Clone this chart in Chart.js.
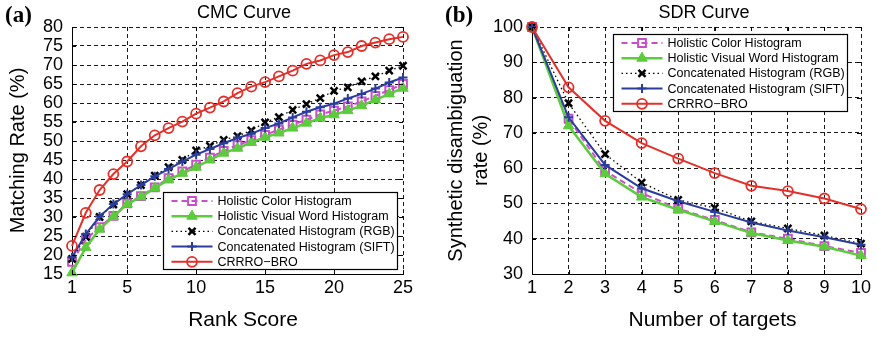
<!DOCTYPE html>
<html>
<head>
<meta charset="utf-8">
<script src="https://cdn.jsdelivr.net/npm/chart.js@4.4.0/dist/chart.umd.min.js"></script>
<style>
body { margin: 0; background: #fff; }
#wrap { position: relative; width: 877px; height: 337px; }
#cmc { position: absolute; left: 0; top: 0; }
#sdr { position: absolute; left: 440px; top: 0; }
</style>
</head>
<body>
<div id="wrap">
  <canvas id="cmc" width="440" height="337"></canvas>
  <canvas id="sdr" width="437" height="337"></canvas>
</div>
<script>
// ---- data ----
var seriesNames = ['Holistic Color Histogram', 'Holistic Visual Word Histogram',
  'Concatenated Histogram (RGB)', 'Concatenated Histogram (SIFT)', 'CRRRO\u2212BRO'];

// (a) CMC curve, matching rate (%) per rank score
var ranks = [1, 2, 3, 4, 5, 6, 7, 8, 9, 10, 11, 12, 13, 14, 15, 16, 17, 18, 19, 20, 21, 22, 23, 24, 25];
var rankTicks = [1, 5, 10, 15, 20, 25];
var cmcColor  = [18.2, 24.1, 27.3, 30.3, 33.6, 35.5, 37.8, 40.2, 42.0, 43.8, 45.6, 47.4, 48.9, 50.2, 51.6, 53.0, 54.3, 55.6, 57.0, 58.0, 59.1, 60.4, 61.9, 63.4, 65.0];
var cmcVisual = [15.3, 22.0, 26.8, 30.1, 33.4, 35.3, 37.6, 39.8, 41.5, 43.1, 45.0, 46.8, 48.1, 49.6, 51.0, 52.1, 53.4, 54.7, 56.0, 56.9, 58.0, 59.3, 60.8, 62.4, 63.9];
var cmcRGB    = [19.0, 24.8, 30.0, 33.3, 36.0, 38.4, 40.9, 43.1, 45.0, 47.5, 48.7, 50.3, 51.3, 52.8, 54.9, 56.3, 58.2, 59.7, 61.3, 63.2, 64.1, 65.7, 67.0, 68.5, 69.8];
var cmcSIFT   = [19.4, 25.5, 30.1, 33.4, 36.0, 38.4, 40.7, 42.6, 44.6, 46.4, 47.9, 49.4, 50.8, 51.9, 53.4, 54.6, 56.2, 57.7, 58.9, 59.8, 61.2, 62.4, 63.8, 65.4, 66.7];
var cmcCRRRO  = [22.4, 31.1, 37.1, 41.3, 44.6, 48.6, 51.5, 53.4, 55.1, 57.2, 58.8, 60.4, 62.6, 64.3, 65.5, 67.0, 68.5, 70.3, 71.2, 72.6, 73.4, 75.0, 75.9, 76.8, 77.4];

// (b) SDR curve, disambiguation rate (%) per number of targets
var targets   = [1, 2, 3, 4, 5, 6, 7, 8, 9, 10];
var sdrColor  = [100, 74.0, 59.2, 52.9, 48.5, 45.3, 41.8, 40.0, 37.9, 36.0];
var sdrVisual = [100, 72.0, 58.4, 51.8, 48.2, 44.9, 41.6, 39.5, 37.7, 35.2];
var sdrRGB    = [100, 78.4, 64.0, 55.9, 51.0, 48.7, 44.9, 42.9, 40.9, 38.6];
var sdrSIFT   = [100, 74.4, 60.9, 54.3, 50.6, 47.6, 44.6, 42.3, 40.4, 38.3];
var sdrCRRRO  = [100, 82.9, 73.4, 67.1, 62.7, 58.6, 55.0, 53.5, 51.4, 48.4];

// ---- look of each series (same in both panels) ----
var looks = [
  { color: '#C94FC9', width: 2,   dash: [6, 4], point: 'rect',     radius: 5.5, pw: 2,   fill: false },
  { color: '#5CCB3C', width: 2.5, dash: [],     point: 'triangle', radius: 6,   pw: 1,   fill: true  },
  { color: '#000000', width: 1.3, dash: [1.5, 3], point: 'crossRot', radius: 5, pw: 2.5, fill: false },
  { color: '#2A3C9C', width: 2,   dash: [],     point: 'cross',    radius: 4.5, pw: 2,   fill: false },
  { color: '#E2302A', width: 2,   dash: [],     point: 'circle',   radius: 5,   pw: 1.8, fill: false }
];

Chart.defaults.font.family = '"Liberation Sans", Arial, sans-serif';
Chart.defaults.color = '#000';

function makeDatasets(xs, seriesList) {
  var sets = [];
  for (var i = 0; i < seriesList.length; i++) {
    var lk = looks[i];
    sets.push({
      label: seriesNames[i],
      data: seriesList[i].map(function (v, j) { return { x: xs[j], y: v }; }),
      borderColor: lk.color,
      borderWidth: lk.width,
      borderDash: lk.dash,
      pointStyle: lk.point,
      pointRadius: lk.radius,
      pointBorderWidth: lk.pw,
      pointBorderColor: lk.color,
      pointBackgroundColor: lk.fill ? lk.color : 'rgba(0,0,0,0)',
      tension: 0,
      clip: false,
      order: seriesList.length - i
    });
  }
  return sets;
}

// marker for the legend, same shapes as chart.js point styles
function drawMarker(ctx, lk, x, y) {
  var r = lk.radius;
  ctx.save();
  ctx.strokeStyle = lk.color;
  ctx.fillStyle = lk.color;
  ctx.lineWidth = lk.pw;
  ctx.setLineDash([]);
  ctx.beginPath();
  if (lk.point == 'rect') {
    var s = r * Math.SQRT1_2;
    ctx.rect(x - s, y - s, 2 * s, 2 * s);
  } else if (lk.point == 'triangle') {
    for (var k = 0; k < 3; k++) {
      var a = k * 2 * Math.PI / 3;
      if (k == 0) ctx.moveTo(x + Math.sin(a) * r, y - Math.cos(a) * r);
      else ctx.lineTo(x + Math.sin(a) * r, y - Math.cos(a) * r);
    }
    ctx.closePath();
  } else if (lk.point == 'crossRot') {
    var c = r * Math.SQRT1_2;
    ctx.moveTo(x - c, y - c); ctx.lineTo(x + c, y + c);
    ctx.moveTo(x - c, y + c); ctx.lineTo(x + c, y - c);
  } else if (lk.point == 'cross') {
    ctx.moveTo(x - r, y); ctx.lineTo(x + r, y);
    ctx.moveTo(x, y - r); ctx.lineTo(x, y + r);
  } else {
    ctx.arc(x, y, r, 0, Math.PI * 2);
  }
  if (lk.fill) ctx.fill();
  ctx.stroke();
  ctx.restore();
}

// panel letter, title, x label, inward ticks and the boxed legend
var decor = {
  id: 'decor',
  afterDraw: function (chart) {
    var o = chart.options.plugins.decor;
    var ctx = chart.ctx;
    var area = chart.chartArea;
    var xs = chart.scales.x, ys = chart.scales.y;
    ctx.save();

    // small ticks pointing into the plot on all four sides
    ctx.strokeStyle = '#000';
    ctx.lineWidth = 1;
    ctx.beginPath();
    xs.ticks.forEach(function (t) {
      var p = Math.round(xs.getPixelForValue(t.value)) + 0.5;
      ctx.moveTo(p, area.bottom); ctx.lineTo(p, area.bottom - 4);
      ctx.moveTo(p, area.top); ctx.lineTo(p, area.top + 4);
    });
    ys.ticks.forEach(function (t) {
      var p = Math.round(ys.getPixelForValue(t.value)) + 0.5;
      ctx.moveTo(area.left, p); ctx.lineTo(area.left + 4, p);
      ctx.moveTo(area.right, p); ctx.lineTo(area.right - 4, p);
    });
    ctx.stroke();

    // letter and titles
    ctx.fillStyle = '#000';
    ctx.textBaseline = 'middle';
    ctx.textAlign = 'left';
    ctx.font = 'bold 23px "Liberation Serif", "DejaVu Serif", serif';
    ctx.fillText(o.letter, 5, 16.5);
    ctx.textAlign = 'center';
    ctx.font = '18px "Liberation Sans", Arial, sans-serif';
    ctx.fillText(o.title, o.titleX, 13.5);
    ctx.font = '21px "Liberation Sans", Arial, sans-serif';
    ctx.fillText(o.xLabel, o.xLabelX, 320);

    // legend box
    var bx = o.legendX, by = o.legendY, bw = 234, bh = 77;
    ctx.fillStyle = '#fff';
    ctx.fillRect(bx, by, bw, bh);
    ctx.strokeStyle = '#000';
    ctx.lineWidth = 1.2;
    ctx.strokeRect(bx, by, bw, bh);
    ctx.font = '12.5px "Liberation Sans", Arial, sans-serif';
    ctx.textAlign = 'left';
    for (var i = 0; i < seriesNames.length; i++) {
      var lk = looks[i];
      var ry = by + 8.5 + i * 15.2;
      ctx.save();
      ctx.strokeStyle = lk.color;
      ctx.lineWidth = lk.width;
      ctx.setLineDash(lk.dash);
      ctx.beginPath();
      ctx.moveTo(bx + 8, ry);
      ctx.lineTo(bx + 49, ry);
      ctx.stroke();
      ctx.restore();
      drawMarker(ctx, lk, bx + 28.5, ry);
      ctx.fillStyle = '#000';
      ctx.fillText(seriesNames[i], bx + 54, ry + 0.5);
    }
    ctx.restore();
  }
};

function makeChart(id, cfg) {
  var canvas = document.getElementById(id);
  return new Chart(canvas, {
    type: 'line',
    data: { datasets: makeDatasets(cfg.xs, cfg.series) },
    plugins: [decor],
    options: {
      responsive: false,
      animation: false,
      devicePixelRatio: 1,
      layout: { padding: { left: 0, top: 27, right: cfg.padRight, bottom: 0 } },
      plugins: {
        legend: { display: false },
        tooltip: { enabled: false },
        decor: cfg.decor
      },
      scales: {
        x: {
          type: 'linear',
          min: cfg.xMin, max: cfg.xMax,
          afterBuildTicks: function (s) { s.ticks = cfg.xTicks.map(function (v) { return { value: v }; }); },
          afterFit: function (s) { s.height = 63; },
          grid: { color: '#1a1a1a', lineWidth: 1, drawTicks: false },
          border: { color: '#000', width: 1, dash: [4, 3] },
          ticks: { color: '#000', font: { size: 18 }, padding: 3, maxRotation: 0, autoSkip: false }
        },
        y: {
          min: cfg.yMin, max: cfg.yMax,
          afterFit: function (s) { s.width = cfg.yWidth; },
          grid: { color: '#1a1a1a', lineWidth: 1, drawTicks: false },
          border: { color: '#000', width: 1, dash: [4, 3] },
          ticks: { color: '#000', font: { size: 18 }, padding: 9, stepSize: cfg.yStep, autoSkip: false },
          title: { display: true, text: cfg.yLabel, color: '#000',
                   font: { size: 20, lineHeight: 1.25 }, padding: { top: cfg.yTitlePad, bottom: 0 } }
        }
      }
    }
  });
}

makeChart('cmc', {
  xs: ranks,
  series: [cmcColor, cmcVisual, cmcRGB, cmcSIFT, cmcCRRRO],
  xMin: 1, xMax: 25, xTicks: rankTicks,
  yMin: 15, yMax: 80, yStep: 5,
  yWidth: 72, padRight: 37, yTitlePad: 5.5,
  yLabel: 'Matching Rate (%)',
  decor: { letter: '(a)', title: 'CMC Curve', titleX: 244, xLabel: 'Rank Score', xLabelX: 243,
           legendX: 163.5, legendY: 192.5 }
});

makeChart('sdr', {
  xs: targets,
  series: [sdrColor, sdrVisual, sdrRGB, sdrSIFT, sdrCRRRO],
  xMin: 1, xMax: 10, xTicks: targets,
  yMin: 30, yMax: 100, yStep: 10,
  yWidth: 92, padRight: 16, yTitlePad: 4,
  yLabel: ['Synthetic disambiguation', 'rate (%)'],
  decor: { letter: '(b)', title: 'SDR Curve', titleX: 264, xLabel: 'Number of targets', xLabelX: 272.5,
           legendX: 173.5, legendY: 34.5 }
});
</script>
</body>
</html>
